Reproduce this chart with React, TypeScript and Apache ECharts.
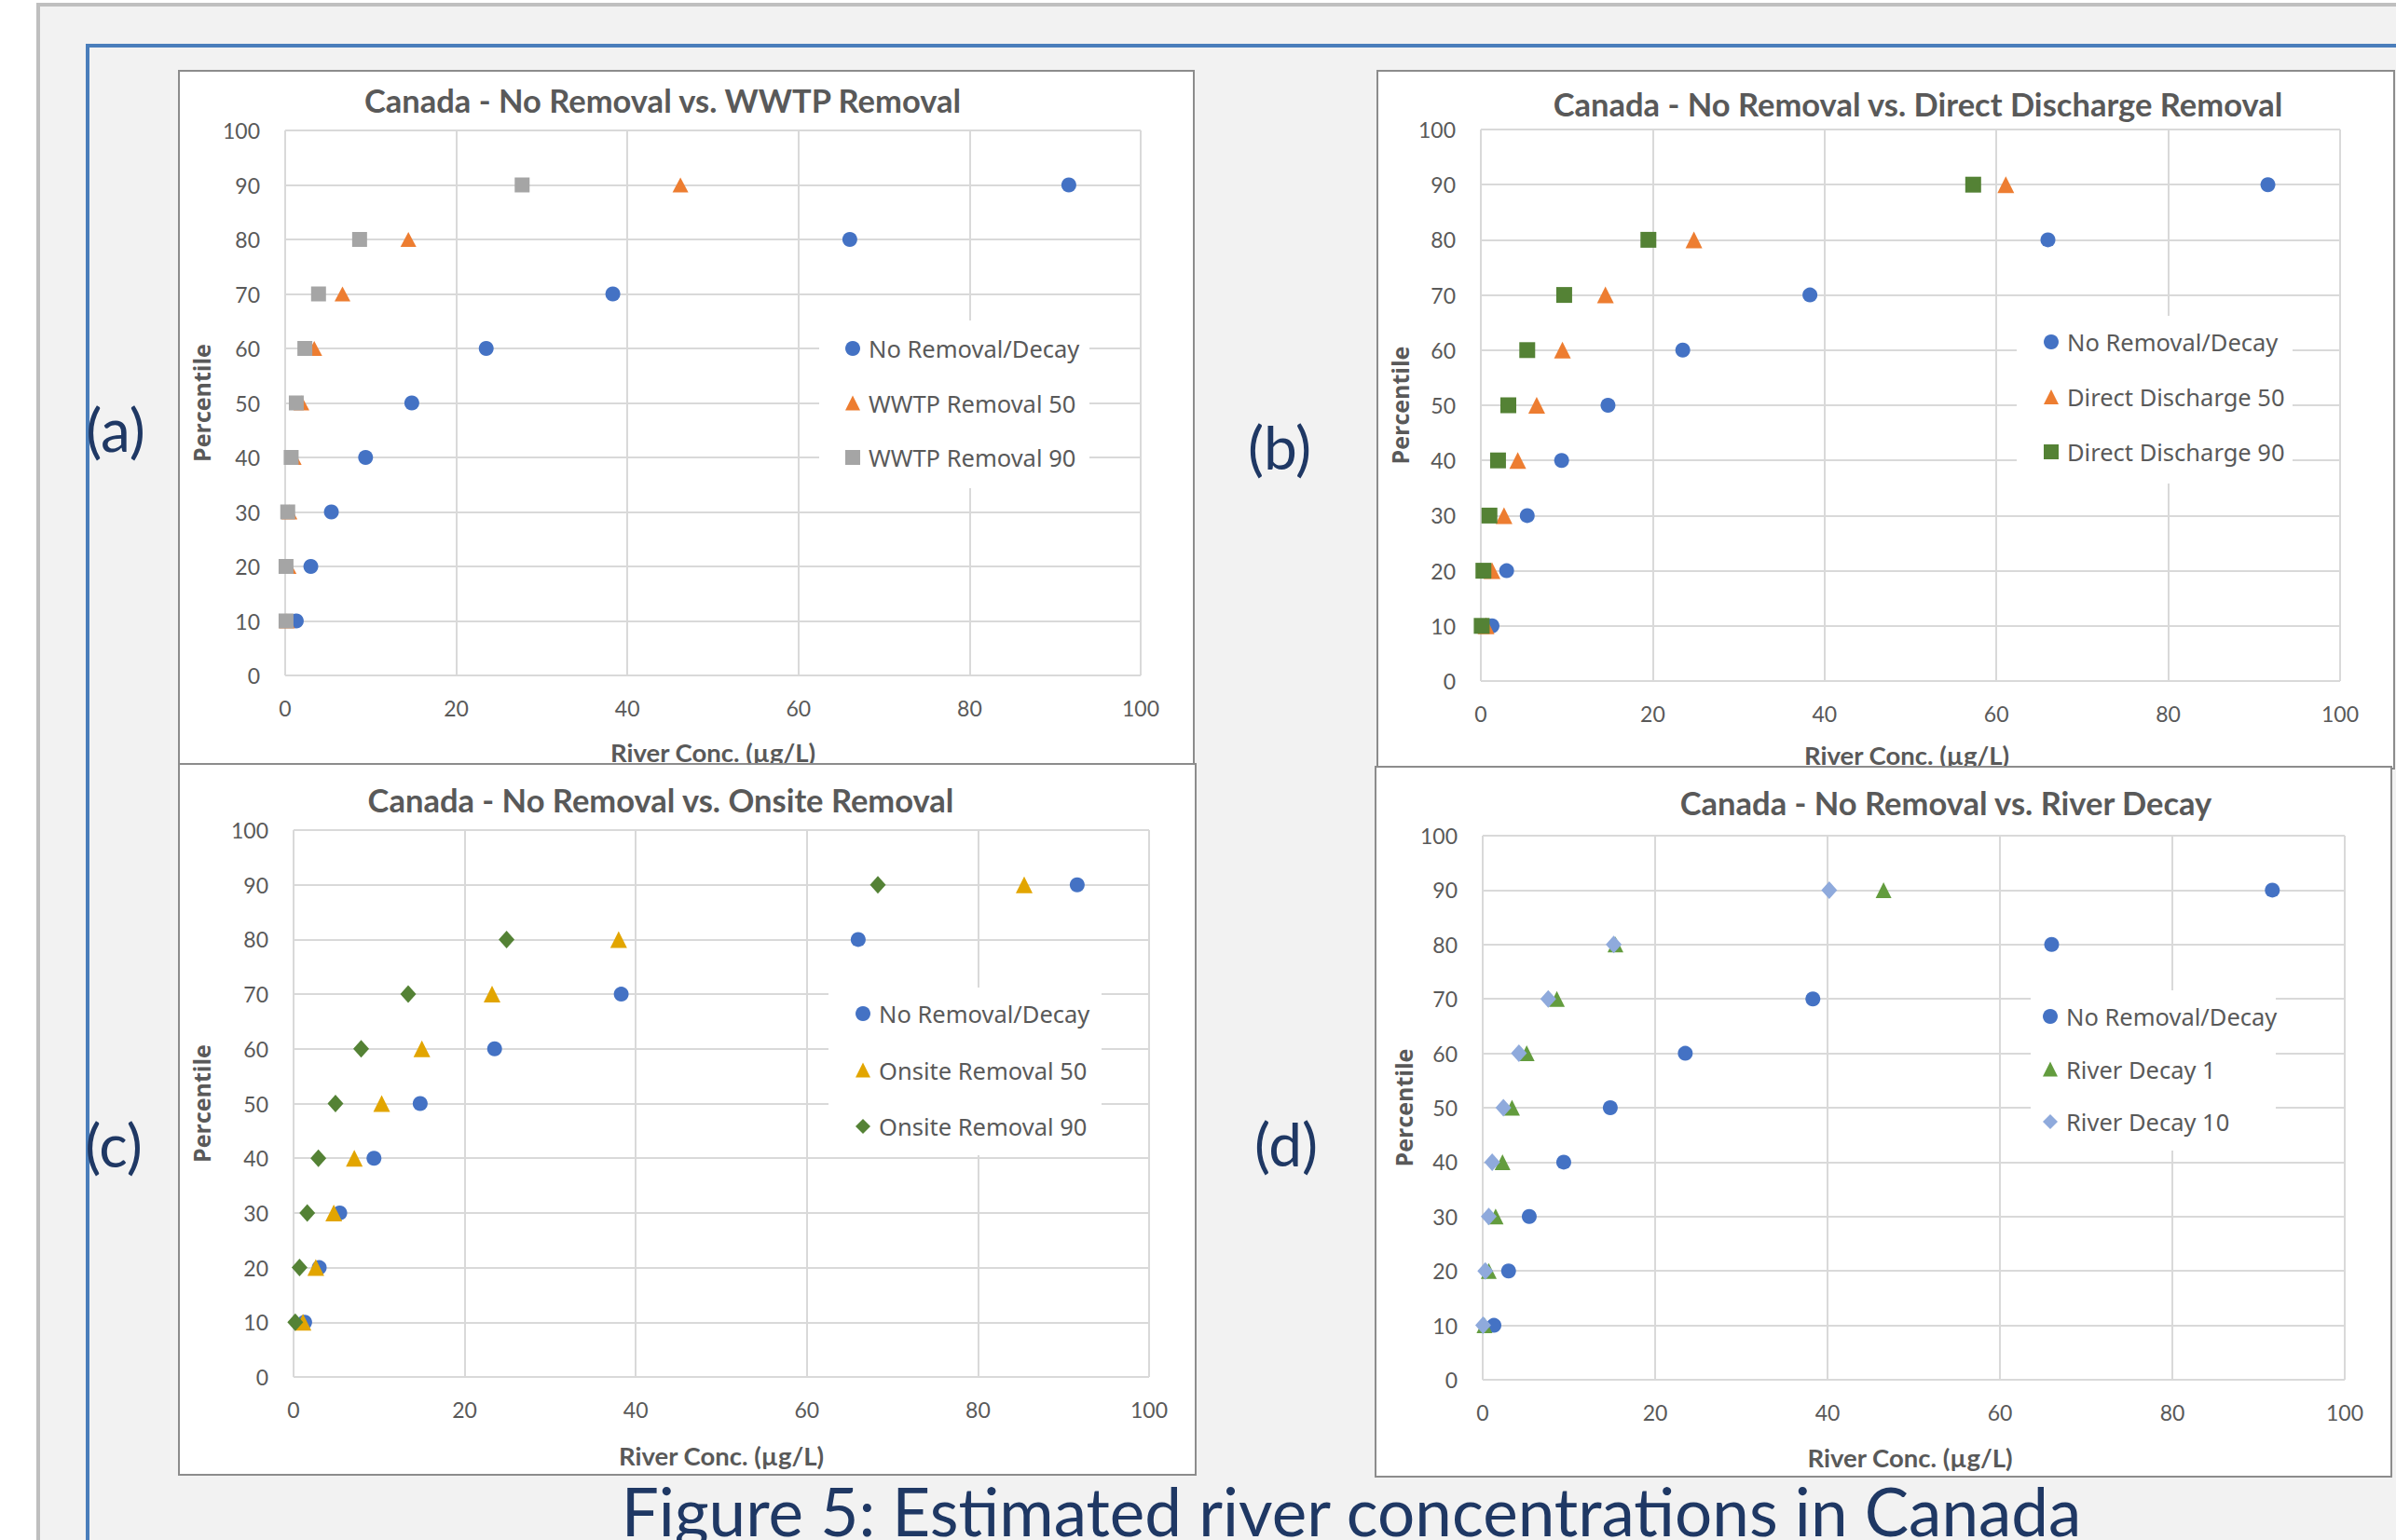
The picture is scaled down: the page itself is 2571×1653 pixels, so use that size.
import React, { useEffect, useRef } from "react";
import * as echarts from "echarts";

const W = 2571;
const H = 1653;

// ---------- data ----------
const percentiles = [10, 20, 30, 40, 50, 60, 70, 80, 90];
const noRemoval = [1.3, 3.0, 5.4, 9.4, 14.8, 23.5, 38.3, 66.0, 91.6];
const wwtp50 = [0.2, 0.4, 0.5, 1.0, 1.9, 3.4, 6.7, 14.4, 46.2];
const wwtp90 = [0.1, 0.1, 0.3, 0.7, 1.3, 2.3, 3.9, 8.7, 27.7];
const direct50 = [0.6, 1.3, 2.7, 4.3, 6.5, 9.5, 14.5, 24.8, 61.1];
const direct90 = [0.1, 0.3, 1.0, 2.0, 3.2, 5.4, 9.7, 19.5, 57.3];
const onsite50 = [1.1, 2.6, 4.7, 7.1, 10.3, 15.0, 23.2, 38.0, 85.4];
const onsite90 = [0.2, 0.7, 1.6, 2.9, 4.9, 7.9, 13.4, 24.9, 68.3];
const decay1 = [0.2, 0.7, 1.5, 2.3, 3.4, 5.1, 8.6, 15.4, 46.5];
const decay10 = [0.05, 0.3, 0.7, 1.1, 2.4, 4.2, 7.6, 15.2, 40.2];

const xMin = 0;
const xMax = 100;
const xStep = 20;
const yMin = 0;
const yMax = 100;
const yStep = 10;

const titles = [
  "Canada - No Removal vs. WWTP Removal",
  "Canada - No Removal vs. Direct Discharge Removal",
  "Canada - No Removal vs. Onsite Removal",
  "Canada - No Removal vs. River Decay",
];
const tags = ["(a)", "(b)", "(c)", "(d)"];
const xAxisName = "River Conc. (\u00b5g/L)";
const yAxisName = "Percentile";
const caption = "Figure 5: Estimated river concentrations in Canada";

// ---------- styles ----------
const BLUE = "#4472C4";
const ORANGE = "#ED7D31";
const GRAY = "#A5A5A5";
const DGREEN = "#548235";
const GOLD = "#E2A500";
const LGREEN = "#639C3E";
const LAV = "#8FAADC";
const TXT = "#595959";
const NAVY = "#1F3864";

type S = { name: string; data: number[]; symbol: string; color: string; size: number[] };

const panels = [
  {
    box: [192, 76, 1089, 746],
    grid: [306, 140, 918, 585],
    titleXY: [711, 107],
    yNameX: 216,
    xNameY: 807,
    tag: [124, 460],
    legendBox: [879, 344, 290, 180],
    legend: [907, 359, 28.5],
    series: [
      { name: "No Removal/Decay", data: noRemoval, symbol: "circle", color: BLUE, size: [16, 16] },
      { name: "WWTP Removal 50", data: wwtp50, symbol: "triangle", color: ORANGE, size: [17, 16] },
      { name: "WWTP Removal 90", data: wwtp90, symbol: "rect", color: GRAY, size: [16, 16] },
    ] as S[],
  },
  {
    box: [1478, 76, 1091, 749],
    grid: [1589, 139, 922, 592],
    titleXY: [2058, 111],
    yNameX: 1502,
    xNameY: 810,
    tag: [1373, 479],
    legendBox: [2164, 339, 296, 180],
    legend: [2193, 352, 29],
    series: [
      { name: "No Removal/Decay", data: noRemoval, symbol: "circle", color: BLUE, size: [16, 16] },
      { name: "Direct Discharge 50", data: direct50, symbol: "triangle", color: ORANGE, size: [18, 18] },
      { name: "Direct Discharge 90", data: direct90, symbol: "rect", color: DGREEN, size: [17, 17] },
    ] as S[],
  },
  {
    box: [192, 820, 1091, 763],
    grid: [315, 891, 918, 587],
    titleXY: [709, 858],
    yNameX: 216,
    xNameY: 1562,
    tag: [122, 1228],
    legendBox: [889, 1060, 293, 180],
    legend: [918, 1073, 30.5],
    series: [
      { name: "No Removal/Decay", data: noRemoval, symbol: "circle", color: BLUE, size: [16, 16] },
      { name: "Onsite Removal 50", data: onsite50, symbol: "triangle", color: GOLD, size: [18, 18] },
      { name: "Onsite Removal 90", data: onsite90, symbol: "diamond", color: DGREEN, size: [17, 19] },
    ] as S[],
  },
  {
    box: [1476, 823, 1090, 762],
    grid: [1591, 897, 925, 584],
    titleXY: [2088, 861],
    yNameX: 1506,
    xNameY: 1564,
    tag: [1380, 1227],
    legendBox: [2179, 1063, 263, 172],
    legend: [2192, 1076, 26.5],
    series: [
      { name: "No Removal/Decay", data: noRemoval, symbol: "circle", color: BLUE, size: [16, 16] },
      { name: "River Decay 1", data: decay1, symbol: "triangle", color: LGREEN, size: [17, 17] },
      { name: "River Decay 10", data: decay10, symbol: "diamond", color: LAV, size: [17, 19] },
    ] as S[],
  },
];

function buildOption() {
  const grids: any[] = [];
  const xAxes: any[] = [];
  const yAxes: any[] = [];
  const series: any[] = [];
  const legends: any[] = [];
  const graphics: any[] = [];

  graphics.push({
    type: "rect",
    z: 0,
    shape: { x: 41, y: 5, width: 3000, height: 3000 },
    style: { fill: "#F2F2F2", stroke: "#BFBFBF", lineWidth: 4 },
  });
  graphics.push({
    type: "rect",
    z: 0,
    shape: { x: 94, y: 49, width: 3000, height: 3000 },
    style: { fill: "none", stroke: "#4A7EBB", lineWidth: 4 },
  });

  panels.forEach((p, i) => {
    const base = i < 2 ? 0 : 10;
    const [gl, gt, gw, gh] = p.grid;
    graphics.push({
      type: "rect",
      z: base + 1,
      shape: { x: p.box[0], y: p.box[1], width: p.box[2], height: p.box[3] },
      style: { fill: "#FFFFFF", stroke: "#8C8C8C", lineWidth: 2 },
    });
    grids.push({ left: gl, top: gt, width: gw, height: gh, containLabel: false });
    const lineStyle = { color: "#D9D9D9", width: 2 };
    xAxes.push({
      gridIndex: i,
      type: "value",
      min: xMin,
      max: xMax,
      interval: xStep,
      z: base + 2,
      axisLine: { show: false },
      axisTick: { show: false },
      splitLine: { show: true, lineStyle },
      axisLabel: { margin: 23, color: TXT, fontSize: 23, fontFamily: "Lato" },
    });
    yAxes.push({
      gridIndex: i,
      type: "value",
      min: yMin,
      max: yMax,
      interval: yStep,
      z: base + 2,
      axisLine: { show: false },
      axisTick: { show: false },
      splitLine: { show: true, lineStyle },
      axisLabel: { margin: 27, color: TXT, fontSize: 23, fontFamily: "Lato" },
    });
    p.series.forEach((s) => {
      series.push({
        type: "scatter",
        name: s.name,
        xAxisIndex: i,
        yAxisIndex: i,
        z: base + 3,
        symbol: s.symbol,
        symbolSize: s.size,
        itemStyle: { color: s.color, opacity: 1 },
        data: s.data.map((v, k) => [v, percentiles[k]]),
      });
    });
    // title
    graphics.push({
      type: "text",
      z: base + 3,
      x: p.titleXY[0],
      y: p.titleXY[1],
      style: {
        text: titles[i],
        fill: TXT,
        fontSize: 34.5,
        fontWeight: "bold",
        fontFamily: "Lato",
        textAlign: "center",
        textVerticalAlign: "middle",
      },
    });
    // axis names
    graphics.push({
      type: "text",
      z: base + 3,
      x: gl + gw / 2 + (i % 2 === 0 ? 0 : -4),
      y: p.xNameY,
      style: {
        text: xAxisName,
        fill: TXT,
        fontSize: 27.5,
        fontWeight: "bold",
        fontFamily: "Lato",
        textAlign: "center",
        textVerticalAlign: "middle",
      },
    });
    graphics.push({
      type: "text",
      z: base + 3,
      x: p.yNameX,
      y: gt + gh / 2,
      rotation: Math.PI / 2,
      style: {
        text: yAxisName,
        fill: TXT,
        fontSize: 25,
        fontWeight: "bold",
        fontFamily: "Open Sans",
        textAlign: "center",
        textVerticalAlign: "middle",
      },
    });
    // tag
    graphics.push({
      type: "text",
      z: base + 3,
      x: p.tag[0],
      y: p.tag[1],
      style: {
        text: tags[i],
        fill: NAVY,
        fontSize: 64,
        fontFamily: "Lato",
        textAlign: "center",
        textVerticalAlign: "middle",
      },
    });
    // legend background
    graphics.push({
      type: "rect",
      z: base + 4,
      shape: { x: p.legendBox[0], y: p.legendBox[1], width: p.legendBox[2], height: p.legendBox[3] },
      style: { fill: "#FFFFFF" },
    });
    legends.push({
      orient: "vertical",
      left: p.legend[0],
      top: p.legend[1],
      itemGap: p.legend[2],
      itemWidth: 16,
      itemHeight: 16,
      padding: 0,
      z: base + 5,
      selectedMode: false,
      data: p.series.map((s) => ({ name: s.name, icon: s.symbol, itemStyle: { color: s.color } })),
      textStyle: { fontFamily: "Noto Sans", fontSize: 25.5, color: TXT, lineHeight: 30, padding: [0, 0, 0, 4] },
    });
  });

  graphics.push({
    type: "text",
    z: 30,
    x: 1450,
    y: 1621,
    style: {
      text: caption,
      fill: NAVY,
      fontSize: 71,
      fontFamily: "Lato",
      textAlign: "center",
      textVerticalAlign: "middle",
    },
  });

  return {
    animation: false,
    backgroundColor: "#FFFFFF",
    grid: grids,
    xAxis: xAxes,
    yAxis: yAxes,
    series,
    legend: legends,
    graphic: { elements: graphics },
  };
}

export default function App() {
  const ref = useRef<HTMLDivElement>(null);
  useEffect(() => {
    const chart = echarts.init(ref.current!, null, { renderer: "svg", width: W, height: H });
    chart.setOption(buildOption() as any);
    return () => chart.dispose();
  }, []);
  return (
    <div
      ref={ref}
      style={{ position: "fixed", left: 0, top: 0, width: W, height: H, background: "#FFFFFF" }}
    />
  );
}
